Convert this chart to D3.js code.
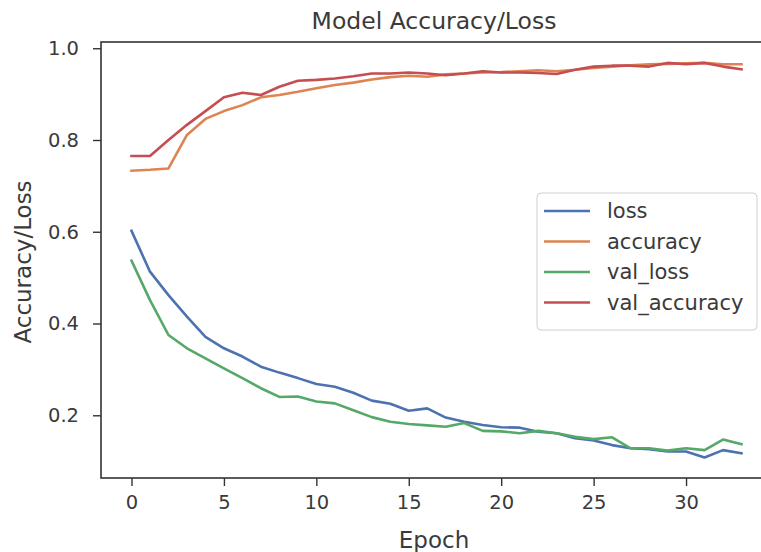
<!DOCTYPE html>
<html>
<head>
<meta charset="utf-8">
<script src="https://cdn.jsdelivr.net/npm/d3@7"></script>
<style>
  body { margin: 0; background: #fff; }
  svg { display: block; font-family: "DejaVu Sans", sans-serif; }
</style>
</head>
<body>
<div id="chart"></div>
<script>
// epochs 0..33
const epochs = d3.range(0, 34);

const loss = [0.602, 0.513, 0.462, 0.415, 0.371, 0.346, 0.328, 0.306, 0.293, 0.281,
              0.268, 0.262, 0.249, 0.232, 0.225, 0.210, 0.215, 0.195, 0.186, 0.179,
              0.174, 0.173, 0.164, 0.161, 0.150, 0.145, 0.135, 0.128, 0.126, 0.121,
              0.121, 0.108, 0.124, 0.117];
const accuracy = [0.733, 0.735, 0.738, 0.811, 0.846, 0.863, 0.876, 0.893, 0.898, 0.905,
                  0.913, 0.920, 0.925, 0.932, 0.937, 0.940, 0.938, 0.943, 0.945, 0.947,
                  0.948, 0.950, 0.952, 0.950, 0.953, 0.957, 0.960, 0.963, 0.965, 0.966,
                  0.967, 0.968, 0.965, 0.965];
const valLoss = [0.537, 0.451, 0.375, 0.346, 0.324, 0.302, 0.281, 0.259, 0.240, 0.241,
                 0.230, 0.226, 0.211, 0.196, 0.186, 0.181, 0.178, 0.175, 0.183, 0.166,
                 0.165, 0.161, 0.166, 0.161, 0.153, 0.148, 0.152, 0.128, 0.128, 0.123,
                 0.128, 0.124, 0.147, 0.137];
const valAccuracy = [0.765, 0.765, 0.800, 0.833, 0.863, 0.893, 0.903, 0.898, 0.916, 0.929,
                     0.931, 0.934, 0.939, 0.945, 0.945, 0.947, 0.945, 0.941, 0.945, 0.950,
                     0.947, 0.947, 0.946, 0.944, 0.953, 0.960, 0.962, 0.962, 0.960, 0.968,
                     0.965, 0.968, 0.960, 0.954];

const seriesNames = ["loss", "accuracy", "val_loss", "val_accuracy"];
const seriesColors = ["#4c72b0", "#dd8452", "#55a868", "#c44e52"];
const xTicks = [0, 5, 10, 15, 20, 25, 30];
const yTicks = [0.2, 0.4, 0.6, 0.8, 1.0];

const width = 761, height = 552;
const plotLeft = 101, plotTop = 42, plotRight = 772, plotBottom = 478;

const svg = d3.select("#chart").append("svg")
    .attr("width", width)
    .attr("height", height);

const x = d3.scaleLinear().domain([-1.65, 34.65]).range([plotLeft, plotRight]);
const y = d3.scaleLinear().domain([0.0633, 1.0136]).range([plotBottom, plotTop]);

const textColor = "#3a3a3a";

// axes
const xAxis = d3.axisBottom(x).tickValues(xTicks).tickFormat(d3.format("d"))
    .tickSize(8).tickPadding(9);
const yAxis = d3.axisLeft(y).tickValues(yTicks).tickFormat(d3.format(".1f"))
    .tickSize(8).tickPadding(14);

const gx = svg.append("g").attr("transform", "translate(0," + plotBottom + ")").call(xAxis);
const gy = svg.append("g").attr("transform", "translate(" + plotLeft + ",0)").call(yAxis);
[gx, gy].forEach(g => {
  g.select(".domain").remove();
  g.selectAll("line").attr("stroke", "#333").attr("stroke-width", 1.4);
  g.selectAll("text").attr("fill", textColor).attr("font-size", 19.5)
   .attr("font-family", "DejaVu Sans, sans-serif");
});

// lines
const line = d3.line().x((d, i) => x(epochs[i])).y(d => y(d));
const allSeries = [loss, accuracy, valLoss, valAccuracy];
allSeries.forEach((s, k) => {
  svg.append("path")
    .datum(s)
    .attr("d", line)
    .attr("fill", "none")
    .attr("stroke", seriesColors[k])
    .attr("stroke-width", 2.6)
    .attr("stroke-linejoin", "round")
    .attr("stroke-linecap", "square");
});

// frame
svg.append("rect")
  .attr("x", plotLeft).attr("y", plotTop)
  .attr("width", plotRight - plotLeft).attr("height", plotBottom - plotTop)
  .attr("fill", "none").attr("stroke", "#333").attr("stroke-width", 1.6);

// title & labels
svg.append("text").attr("x", 434).attr("y", 29)
  .attr("text-anchor", "middle").attr("font-size", 23.5).attr("fill", textColor)
  .text("Model Accuracy/Loss");
svg.append("text").attr("x", 434).attr("y", 548)
  .attr("text-anchor", "middle").attr("font-size", 23).attr("fill", textColor)
  .text("Epoch");
svg.append("text").attr("transform", "translate(31,262) rotate(-90)")
  .attr("text-anchor", "middle").attr("font-size", 23).attr("fill", textColor)
  .text("Accuracy/Loss");

// legend
const lg = svg.append("g").attr("transform", "translate(537,193)");
lg.append("rect").attr("width", 220).attr("height", 137).attr("rx", 4)
  .attr("fill", "#fff").attr("fill-opacity", 0.85)
  .attr("stroke", "#d0d0d0").attr("stroke-width", 1);
seriesNames.forEach((name, k) => {
  const cy = 18 + k * 30.5;
  lg.append("line").attr("x1", 7).attr("x2", 53).attr("y1", cy).attr("y2", cy)
    .attr("stroke", seriesColors[k]).attr("stroke-width", 2.6);
  lg.append("text").attr("x", 70).attr("y", cy + 7)
    .attr("font-size", 21).attr("fill", textColor).text(name);
});
</script>
</body>
</html>
